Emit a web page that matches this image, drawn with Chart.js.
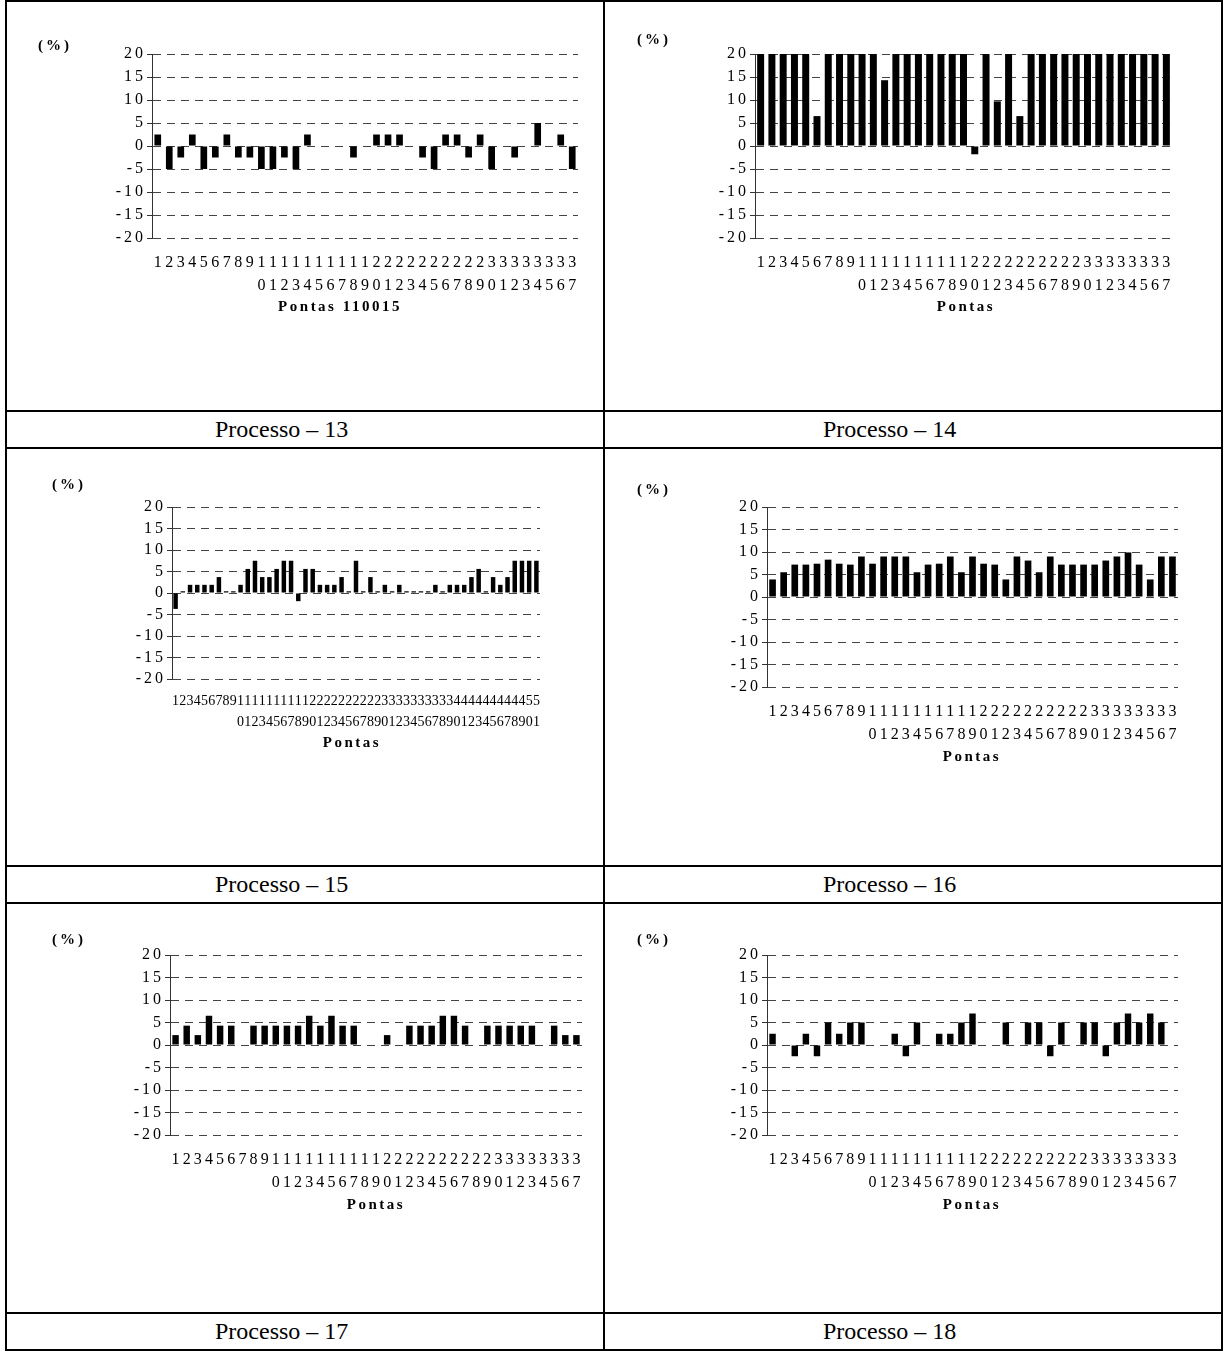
<!DOCTYPE html>
<html>
<head>
<meta charset="utf-8">
<script src="https://cdn.jsdelivr.net/npm/chart.js@4.4.0/dist/chart.umd.min.js"></script>
<style>
  html, body { margin: 0; padding: 0; background: #fff; }
  #page { position: relative; width: 1225px; height: 1352px; overflow: hidden;
          font-family: "Liberation Serif", "Times New Roman", serif; }
  .hl { position: absolute; height: 2px; background: #000; }
  .vl { position: absolute; width: 2px; background: #000; }
  .cap { position: absolute; font-size: 24px; line-height: 1; color: #000; white-space: nowrap; }
  canvas { position: absolute; }
</style>
</head>
<body>
<div id="page">
  <div class="hl" style="left:5px;width:1218px;top:0px"></div>
  <div class="hl" style="left:5px;width:1218px;top:410px"></div>
  <div class="hl" style="left:5px;width:1218px;top:447px"></div>
  <div class="hl" style="left:5px;width:1218px;top:865px"></div>
  <div class="hl" style="left:5px;width:1218px;top:902px"></div>
  <div class="hl" style="left:5px;width:1218px;top:1312px"></div>
  <div class="hl" style="left:5px;width:1218px;top:1349px"></div>
  <div class="vl" style="left:5px;top:0px;height:1351px"></div>
  <div class="vl" style="left:603px;top:0px;height:1351px"></div>
  <div class="vl" style="left:1221px;top:0px;height:1351px"></div>

  <div class="cap" style="left:215px;top:417px">Processo – 13</div>
  <div class="cap" style="left:823px;top:417px">Processo – 14</div>
  <div class="cap" style="left:215px;top:872px">Processo – 15</div>
  <div class="cap" style="left:823px;top:872px">Processo – 16</div>
  <div class="cap" style="left:215px;top:1319px">Processo – 17</div>
  <div class="cap" style="left:823px;top:1319px">Processo – 18</div>
</div>

<script>
// Point numbers (categories) along the x axis
const pontas37 = [1,2,3,4,5,6,7,8,9,10,11,12,13,14,15,16,17,18,19,20,21,22,23,24,25,26,27,28,29,30,31,32,33,34,35,36,37];
const pontas51 = [1,2,3,4,5,6,7,8,9,10,11,12,13,14,15,16,17,18,19,20,21,22,23,24,25,26,27,28,29,30,31,32,33,34,35,36,37,38,39,40,41,42,43,44,45,46,47,48,49,50,51];

// Deviation (%) per point, one array per process
const processo13 = [2.5,-5,-2.5,2.5,-5,-2.5,2.5,-2.5,-2.5,-5,-5,-2.5,-5,2.5,0,0,0,-2.5,0,2.5,2.5,2.5,0,-2.5,-5,2.5,2.5,-2.5,2.5,-5,0,-2.5,0,5,0,2.5,-5];
const processo14 = [20,20,20,20,20,6.5,20,20,20,20,20,14.3,20,20,20,20,20,20,20,-1.8,20,9.7,20,6.5,20,20,20,20,20,20,20,20,20,20,20,20,20];
const processo15 = [-3.7,0.4,1.9,1.9,1.9,1.9,3.7,0.4,0.4,1.9,5.6,7.5,3.7,3.7,5.6,7.5,7.5,-1.9,5.6,5.6,1.9,1.9,1.9,3.7,0.4,7.5,0.4,3.7,0.4,1.9,0.4,1.9,0.4,0.4,0.4,0.4,1.9,0.4,1.9,1.9,1.9,3.7,5.6,0.4,3.7,1.9,3.7,7.5,7.5,7.5,7.5];
const processo16 = [3.9,5.5,7.2,7.2,7.4,8.3,7.4,7.2,9,7.4,9,9,9,5.5,7.2,7.4,9,5.5,9,7.4,7.2,3.9,9,8.1,5.5,9,7.2,7.2,7.2,7.2,8.1,9,9.9,7.2,3.9,9,9];
const processo17 = [2.2,4.3,2.2,6.5,4.3,4.3,0,4.3,4.3,4.3,4.3,4.3,6.5,4.3,6.5,4.3,4.3,0,0,2.2,0,4.3,4.3,4.3,6.5,6.5,4.3,0,4.3,4.3,4.3,4.3,4.3,0,4.3,2.2,2.2];
const processo18 = [2.5,0,-2.5,2.5,-2.5,5,2.5,5,5,0,0,2.5,-2.5,5,0,2.5,2.5,5,7,0,0,5,0,5,5,-2.5,5,0,5,5,-2.5,5,7,5,7,5,0];

// Y axis ticks
const yMin = -20, yMax = 20, yStep = 5;

const AXIS_W = 150, TOP_PAD = 50, RIGHT_PAD = 20, XAXIS_H = 110;

// Extra texts: unit label above the y axis and the x axis title
const annotations = {
  id: 'annotations',
  afterDatasetsDraw(chart) { chart.ctx.letterSpacing = '3px'; },
  afterDraw(chart, args, o) {
    const ctx = chart.ctx;
    ctx.save();
    ctx.fillStyle = '#000';
    ctx.textBaseline = 'middle';
    ctx.font = 'bold 15px "Liberation Serif"';
    ctx.letterSpacing = '3px';
    ctx.textAlign = 'left';
    ctx.fillText('(%)', o.unitX, o.unitY);
    ctx.letterSpacing = '2.5px';
    ctx.textAlign = 'center';
    ctx.fillText(o.title, o.titleX, o.titleY);
    ctx.restore();
    ctx.letterSpacing = '0px';
  }
};

function makeChart(cfg) {
  const w = (cfg.right - cfg.left) + AXIS_W + RIGHT_PAD;
  const h = (cfg.bottom - cfg.top) + TOP_PAD + XAXIS_H;
  const ox = cfg.left - AXIS_W, oy = cfg.top - TOP_PAD;
  const cv = document.createElement('canvas');
  cv.width = w; cv.height = h;
  cv.style.left = ox + 'px'; cv.style.top = oy + 'px';
  cv.style.width = w + 'px'; cv.style.height = h + 'px';
  document.getElementById('page').appendChild(cv);
  const cats = cfg.cats;
  new Chart(cv.getContext('2d'), {
    type: 'bar',
    data: {
      labels: cats.map(String),
      datasets: [{ data: cfg.values, backgroundColor: '#000', borderWidth: 0,
                   barPercentage: cfg.barPct, categoryPercentage: 1 }]
    },
    options: {
      responsive: false, animation: false, devicePixelRatio: 1,
      layout: { padding: { left: 0, top: TOP_PAD, right: RIGHT_PAD, bottom: 0 } },
      plugins: {
        legend: { display: false }, tooltip: { enabled: false },
        annotations: { unitX: cfg.unitX - ox, unitY: cfg.unitY - oy,
                       title: cfg.title, titleX: cfg.titleX - ox, titleY: cfg.titleY - oy }
      },
      scales: {
        x: {
          grid: { display: false, drawTicks: false },
          border: { display: false },
          afterFit(s) { s.height = XAXIS_H; },
          ticks: {
            autoSkip: false, maxRotation: 0, minRotation: 0, padding: cfg.xPad, color: '#000',
            font: { family: '"Liberation Serif"', size: cfg.xFont, lineHeight: cfg.xLine },
            callback: (v, i) => String(cats[i]).split('')
          }
        },
        y: {
          min: yMin, max: yMax,
          afterFit(s) { s.width = AXIS_W; },
          grid: { color: '#444', lineWidth: 1, drawTicks: true, tickLength: 5, tickColor: '#333', tickWidth: 1 },
          border: { display: true, color: '#333', width: 1, dash: [8, 6] },
          ticks: {
            stepSize: yStep, autoSkip: false, padding: 1, color: '#000', z: 1,
            font: { family: '"Liberation Serif"', size: 16 }
          }
        }
      }
    },
    plugins: [annotations]
  });
}

const charts = [
  { cats: pontas37, values: processo13, left: 152, right: 578, top: 54, bottom: 238,
    unitX: 38, unitY: 46, title: 'Pontas 110015', titleX: 340, titleY: 307,
    xFont: 16, xLine: '23px', xPad: 13, barPct: 0.58 },
  { cats: pontas37, values: processo14, left: 755, right: 1172, top: 54, bottom: 238,
    unitX: 637, unitY: 40, title: 'Pontas', titleX: 966, titleY: 307,
    xFont: 16, xLine: '23px', xPad: 13, barPct: 0.62 },
  { cats: pontas51, values: processo15, left: 172, right: 540, top: 507, bottom: 679,
    unitX: 52, unitY: 485, title: 'Pontas', titleX: 352, titleY: 743,
    xFont: 14, xLine: '21px', xPad: 12, barPct: 0.62 },
  { cats: pontas37, values: processo16, left: 767, right: 1178, top: 507, bottom: 687,
    unitX: 637, unitY: 490, title: 'Pontas', titleX: 972, titleY: 757,
    xFont: 16, xLine: '23px', xPad: 13, barPct: 0.6 },
  { cats: pontas37, values: processo17, left: 170, right: 582, top: 955, bottom: 1135,
    unitX: 52, unitY: 940, title: 'Pontas', titleX: 376, titleY: 1205,
    xFont: 16, xLine: '23px', xPad: 13, barPct: 0.58 },
  { cats: pontas37, values: processo18, left: 767, right: 1178, top: 955, bottom: 1135,
    unitX: 637, unitY: 940, title: 'Pontas', titleX: 972, titleY: 1205,
    xFont: 16, xLine: '23px', xPad: 13, barPct: 0.58 }
];
charts.forEach(makeChart);
</script>
</body>
</html>
